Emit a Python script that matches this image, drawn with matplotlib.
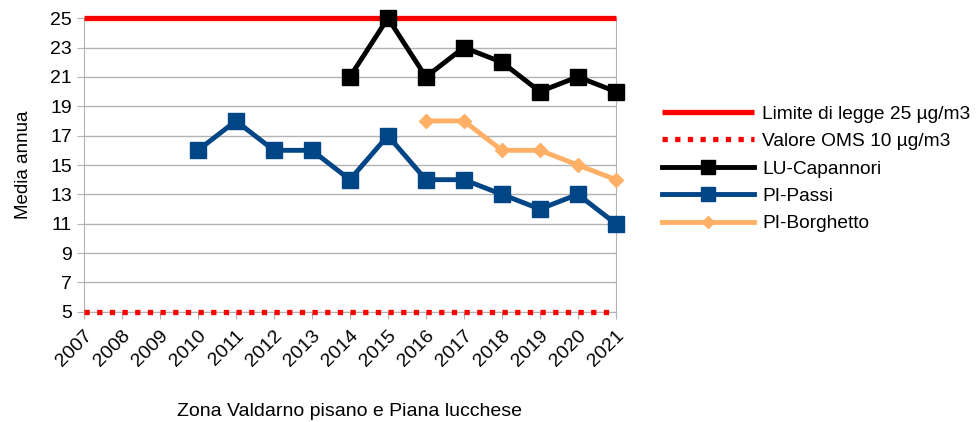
import matplotlib.pyplot as plt

plt.rcParams['font.family'] = ['Liberation Sans', 'DejaVu Sans']

years = list(range(2007, 2022))
limite = [25] * len(years)
oms = [5] * len(years)

capannori_years = [2014, 2015, 2016, 2017, 2018, 2019, 2020, 2021]
capannori = [21, 25, 21, 23, 22, 20, 21, 20]

passi_years = [2010, 2011, 2012, 2013, 2014, 2015, 2016, 2017, 2018, 2019, 2020, 2021]
passi = [16, 18, 16, 16, 14, 17, 14, 14, 13, 12, 13, 11]

borghetto_years = [2016, 2017, 2018, 2019, 2020, 2021]
borghetto = [18, 18, 16, 16, 15, 14]

fig = plt.figure(figsize=(9.76, 4.22), dpi=100)
ax = fig.add_axes([0.086, 0.261, 0.545, 0.696])

grey = '#b3b3b3'
ax.plot(years, limite, color='#ff0000', lw=3.8, label='Limite di legge 25 µg/m3',
        solid_capstyle='butt', clip_on=False, zorder=3)
ax.plot(years, oms, color='#ff0000', lw=3.8, linestyle=(0, (1, 1.4)),
        label='Valore OMS 10 µg/m3', clip_on=False, zorder=3)
ax.plot(capannori_years, capannori, color='black', lw=3.5, marker='s', ms=11,
        label='LU-Capannori', clip_on=False, zorder=4)
ax.plot(passi_years, passi, color='#004586', lw=3.5, marker='s', ms=11,
        label='PI-Passi', clip_on=False, zorder=4)
ax.plot(borghetto_years, borghetto, color='#ffb066', lw=3.5, marker='D', ms=7,
        label='PI-Borghetto', clip_on=False, zorder=4)

ax.set_xlim(2007, 2021)
ax.set_ylim(5, 25)
ax.set_yticks(range(5, 26, 2))
ax.set_xticks(years)
ax.set_xticklabels([str(y) for y in years], rotation=45, ha='right',
                   rotation_mode='anchor', fontsize=14)
ax.tick_params(axis='y', labelsize=14, length=5, color=grey)
ax.tick_params(axis='x', length=5, color=grey, pad=6)
ax.grid(axis='y', color=grey, lw=1)
ax.set_axisbelow(True)
for side in ['left', 'right', 'bottom']:
    ax.spines[side].set_color(grey)
ax.spines['top'].set_visible(False)

ax.set_ylabel('Media annua', fontsize=13.5, labelpad=13)
ax.set_xlabel('Zona Valdarno pisano e Piana lucchese', fontsize=14, labelpad=24)

fig.legend(loc='center left', bbox_to_anchor=(0.661, 0.60), frameon=False,
           fontsize=13.8, handlelength=4.8, labelspacing=0.52, handletextpad=0.4,
           markerscale=0.9)

fig.savefig('out.png', dpi=100)
